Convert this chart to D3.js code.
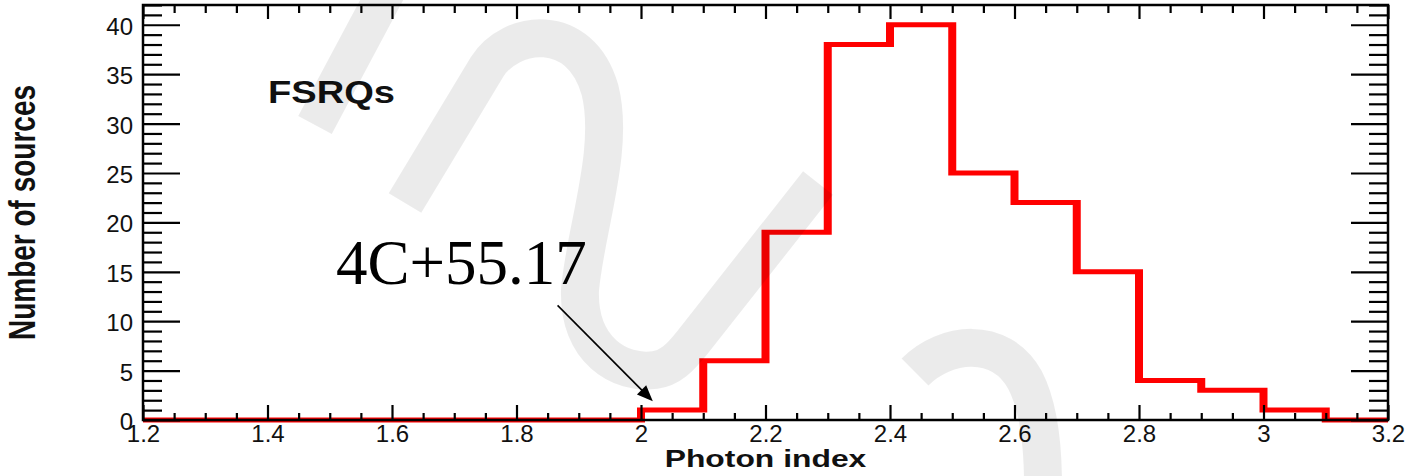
<!DOCTYPE html>
<meta charset="utf-8">
<style>

    body {
        margin: 0;
        background: #fff;
    }

    svg {
        display: block;
    }

    text {
        font-family: "Liberation Sans", Arial, sans-serif;
        fill: #111;
    }

    .axis line {
        stroke: #000;
        stroke-width: 2.2;
    }

    .axis text {
        font-size: 24px;
    }

</style>
<svg width="1407" height="476"></svg>
<script src="https://d3js.org/d3.v7.min.js"></script>
<script>
    // histogram of photon index for FSRQs, bins of 0.1
    var binStarts = [1.2, 1.3, 1.4, 1.5, 1.6, 1.7, 1.8, 1.9, 2.0, 2.1,
        2.2, 2.3, 2.4, 2.5, 2.6, 2.7, 2.8, 2.9, 3.0, 3.1];
    var counts = [0, 0, 0, 0, 0, 0, 0, 0, 1, 6,
        19, 38, 40, 25, 22, 15, 4, 3, 1, 0];
    var binEnd = 3.2;

    var xTicks = [1.2, 1.4, 1.6, 1.8, 2.0, 2.2, 2.4, 2.6, 2.8, 3.0, 3.2];
    var xMinor = [1.25, 1.3, 1.35, 1.45, 1.5, 1.55, 1.65, 1.7, 1.75, 1.85, 1.9, 1.95,
        2.05, 2.1, 2.15, 2.25, 2.3, 2.35, 2.45, 2.5, 2.55, 2.65, 2.7, 2.75,
        2.85, 2.9, 2.95, 3.05, 3.1, 3.15];
    var yTicks = [0, 5, 10, 15, 20, 25, 30, 35, 40];
    var yMinor = [1, 2, 3, 4, 6, 7, 8, 9, 11, 12, 13, 14, 16, 17, 18, 19, 21, 22, 23, 24,
        26, 27, 28, 29, 31, 32, 33, 34, 36, 37, 38, 39, 41, 42];

    var label = "FSRQs";
    var source = "4C+55.17";
    var sourceText = [1.51, 13.75];     // where the name sits
    var arrowFrom = [1.866, 11.6];
    var arrowTo = [2.019, 1.9];

    var svg = d3.select("svg"),
        pLeft = 143, pRight = 1388, pTop = 5, pBottom = 420;

    var x = d3.scaleLinear().domain([1.2, 3.2]).range([pLeft, pRight]);
    var y = d3.scaleLinear().domain([0, 42]).range([pBottom, pTop]);

    // the histogram line: drawn in a stretched group so vertical steps are wider
    var sx = 1.6;
    var xs = x.copy().range([pLeft / sx, pRight / sx]);
    var pts = binStarts.map(function (b, i) {
        return {x: b, c: counts[i]};
    });
    pts.push({x: binEnd, c: 0});

    var line = d3.line()
        .x(function (d) { return xs(d.x); })
        .y(function (d) { return y(d.c); })
        .curve(d3.curveStepAfter);

    svg.append("g")
        .attr("transform", "scale(" + sx + ",1)")
        .append("path")
        .datum(pts)
        .attr("d", line)
        .attr("fill", "none")
        .attr("stroke", "#ff0000")
        .attr("stroke-width", 5)
        .attr("stroke-linejoin", "miter");

    function fmt(v) {
        return String(+v.toFixed(1));
    }

    function clean(g) {
        g.select(".domain").remove();
        g.attr("class", "axis").attr("font-family", null).attr("font-size", null);
    }

    // bottom
    svg.append("g").attr("transform", "translate(0," + pBottom + ")")
        .call(d3.axisBottom(x).tickValues(xTicks).tickSize(-15).tickPadding(5).tickFormat(fmt))
        .call(clean);
    svg.append("g").attr("transform", "translate(0," + pBottom + ")")
        .call(d3.axisBottom(x).tickValues(xMinor).tickSize(-7).tickFormat(""))
        .call(clean);
    // top
    svg.append("g").attr("transform", "translate(0," + pTop + ")")
        .call(d3.axisTop(x).tickValues(xTicks).tickSize(-14).tickFormat(""))
        .call(clean);
    svg.append("g").attr("transform", "translate(0," + pTop + ")")
        .call(d3.axisTop(x).tickValues(xMinor).tickSize(-8).tickFormat(""))
        .call(clean);
    // left
    svg.append("g").attr("transform", "translate(" + pLeft + ",0)")
        .call(d3.axisLeft(y).tickValues(yTicks).tickSize(-37).tickPadding(10))
        .call(clean);
    svg.append("g").attr("transform", "translate(" + pLeft + ",0)")
        .call(d3.axisLeft(y).tickValues(yMinor).tickSize(-19).tickFormat(""))
        .call(clean);
    // right
    svg.append("g").attr("transform", "translate(" + pRight + ",0)")
        .call(d3.axisRight(y).tickValues(yTicks).tickSize(-37).tickFormat(""))
        .call(clean);
    svg.append("g").attr("transform", "translate(" + pRight + ",0)")
        .call(d3.axisRight(y).tickValues(yMinor).tickSize(-19).tickFormat(""))
        .call(clean);

    svg.selectAll(".axis text").attr("dy", function () {
        return d3.select(this).attr("dy") === "0.32em" ? "0.4em" : d3.select(this).attr("dy");
    });

    // frame
    svg.append("rect")
        .attr("x", pLeft).attr("y", pTop)
        .attr("width", pRight - pLeft).attr("height", pBottom - pTop)
        .attr("fill", "none")
        .attr("stroke", "#000")
        .attr("stroke-width", 2.5);

    // axis titles (the original is stretched sideways)
    svg.append("text")
        .attr("transform", "translate(" + (pLeft + pRight) / 2 + ",467) scale(1.3,1)")
        .attr("text-anchor", "middle")
        .style("font-size", "24.5px")
        .style("font-weight", "bold")
        .text("Photon index");

    svg.append("text")
        .attr("transform", "translate(35," + (pTop + pBottom) / 2 + ") scale(1.3,1) rotate(-90)")
        .attr("text-anchor", "middle")
        .style("font-size", "28px")
        .style("font-weight", "bold")
        .text("Number of sources");

    svg.append("text")
        .attr("transform", "translate(268,103) scale(1.19,1)")
        .style("font-size", "32px")
        .style("font-weight", "bold")
        .text(label);

    // annotation
    svg.append("text")
        .attr("x", x(sourceText[0]))
        .attr("y", y(sourceText[1]))
        .style("font-family", "'Liberation Serif', 'Times New Roman', serif")
        .style("font-size", "63px")
        .style("fill", "#000")
        .text(source);

    var ax0 = x(arrowFrom[0]), ay0 = y(arrowFrom[1]),
        ax1 = x(arrowTo[0]), ay1 = y(arrowTo[1]);
    var len = Math.hypot(ax1 - ax0, ay1 - ay0),
        ux = (ax1 - ax0) / len, uy = (ay1 - ay0) / len,
        hl = 16, hw = 6.5;

    svg.append("line")
        .attr("x1", ax0).attr("y1", ay0)
        .attr("x2", ax1 - ux * 10).attr("y2", ay1 - uy * 10)
        .attr("stroke", "#000")
        .attr("stroke-width", 1.6);

    svg.append("path")
        .attr("d", "M" + ax1 + "," + ay1 +
            "L" + (ax1 - ux * hl - uy * hw) + "," + (ay1 - uy * hl + ux * hw) +
            "L" + (ax1 - ux * hl + uy * hw) + "," + (ay1 - uy * hl - ux * hw) + "Z")
        .attr("fill", "#000");

    // light watermark lying over the figure
    svg.append("path")
        .attr("d", "M315,125L395,-25" +
            "M405,203L487,67C510,30 580,20 600,90C615,150 585,230 580,290" +
            "C578,350 620,375 655,370C670,368 680,358 692,343L818,183" +
            "M915,372C945,342 1000,335 1025,380C1038,405 1043,440 1043,485")
        .attr("fill", "none")
        .attr("stroke", "#000")
        .attr("stroke-opacity", 0.08)
        .attr("stroke-width", 38);

</script>
